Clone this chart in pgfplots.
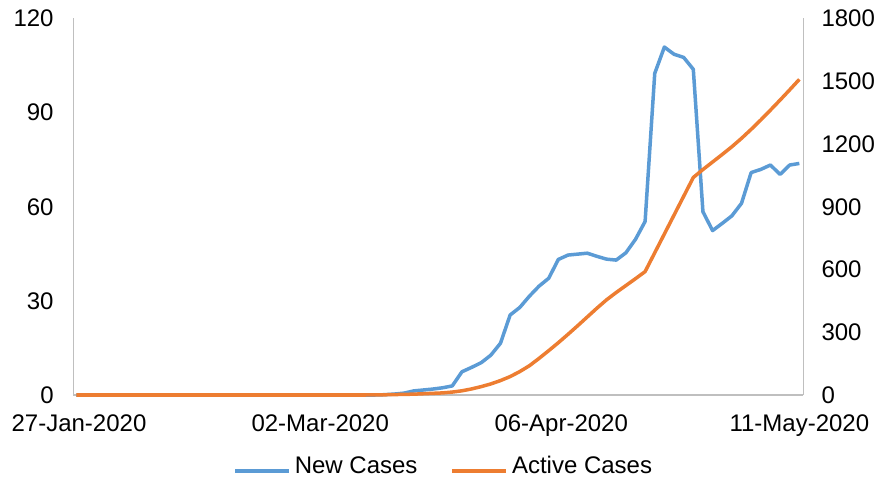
\documentclass[border=0pt]{standalone}
\usepackage{pgfplots}
\usepackage{pgfplotstable}
\pgfplotsset{compat=1.18}
\usepackage{fontspec}
\setmainfont{Liberation Sans}
\definecolor{cblue}{HTML}{5B9BD5}
\definecolor{corange}{HTML}{ED7D31}
\definecolor{axgrey}{HTML}{BFBFBF}

\pgfplotstableread{
i new active
0 0 0
1 0 0
2 0 0
3 0 0
4 0 0
5 0 0
6 0 0
7 0 0
8 0 0
9 0 0
10 0 0
11 0 0
12 0 0
13 0 0
14 0 0
15 0 0
16 0 0
17 0 0
18 0 0
19 0 0
20 0 0
21 0 0
22 0 0
23 0 0
24 0 0
25 0 0
26 0 0
27 0 0
28 0 0
29 0 0
30 0 0
31 0 1
32 0.1 1
33 0.3 2
34 0.6 3
35 1.3 4
36 1.6 6
37 1.9 8
38 2.3 10
39 2.9 14
40 7.4 20
41 8.8 29
42 10.3 40
43 12.7 53
44 16.5 69
45 25.5 88
46 27.9 112
47 31.5 140
48 34.7 175
49 37.2 212
50 43.2 250
51 44.6 290
52 44.9 331
53 45.2 373
54 44.2 415
55 43.3 455
56 43.0 490
57 45.3 523
58 49.6 556
59 55.3 590
60 102.5 680
61 110.9 770
62 108.6 860
63 107.6 950
64 103.8 1040
65 58.4 1078
66 52.4 1114
67 54.7 1150
68 57.1 1187
69 61.1 1227
70 70.9 1270
71 71.9 1315
72 73.3 1362
73 70.3 1410
74 73.3 1459
75 73.8 1509
}\data

\begin{document}
\begin{tikzpicture}
\pgfplotsset{
  every axis/.append style={
    scale only axis, width=730bp, height=376.5bp,
    xmin=-0.311, xmax=75.41,
    font=\fontsize{24bp}{28bp}\selectfont,
    /pgf/number format/assume math mode=true,
    /pgf/number format/1000 sep={},
    axis line style={axgrey, line width=1.2bp},
    major tick length=0pt,
    clip=false,
  },
}
\begin{axis}[
  axis x line*=bottom, axis y line*=left,
  ymin=0, ymax=120, ytick={0,30,60,90,120},
  xtick={0.28,25.3,50.3,75},
  xticklabels={27-Jan-2020,02-Mar-2020,06-Apr-2020,11-May-2020},
  xticklabel style={anchor=base, inner sep=0pt, yshift=-36bp},
  yticklabel style={anchor=east, inner sep=0pt, xshift=-19.5bp},
  legend columns=2,
  legend style={at={(axis description cs:0.506,-0.1886)}, anchor=center,
    draw=none, fill=none, inner sep=0pt,
    nodes={inner sep=0pt, anchor=base west},
    /tikz/every even column/.append style={column sep=33bp},
    /tikz/every odd column/.append style={column sep=4bp},
  },
  legend image code/.code={\draw[#1, line width=3.5bp] (0bp,0.3em) -- (54bp,0.3em);},
]
\addplot[cblue, line width=3.5bp, line join=round] table[x=i, y=new] {\data};
\addlegendentry{New Cases}
\addlegendimage{corange, line width=3.5bp}
\addlegendentry{Active Cases}
\coordinate (bl) at (rel axis cs:0,0);
\coordinate (tr) at (rel axis cs:1,1);
\end{axis}
\begin{axis}[
  axis x line=none, axis y line*=right,
  ymin=0, ymax=1800, ytick={0,300,600,900,1200,1500,1800},
  yticklabel style={anchor=west, inner sep=0pt, xshift=18bp},
]
\addplot[corange, line width=3.5bp, line join=round] table[x=i, y=active] {\data};
\end{axis}
\pgfresetboundingbox
\path[use as bounding box] ([shift={(-73.3bp,-86bp)}]bl) rectangle ([shift={(77.7bp,18.5bp)}]tr);
\end{tikzpicture}
\end{document}
